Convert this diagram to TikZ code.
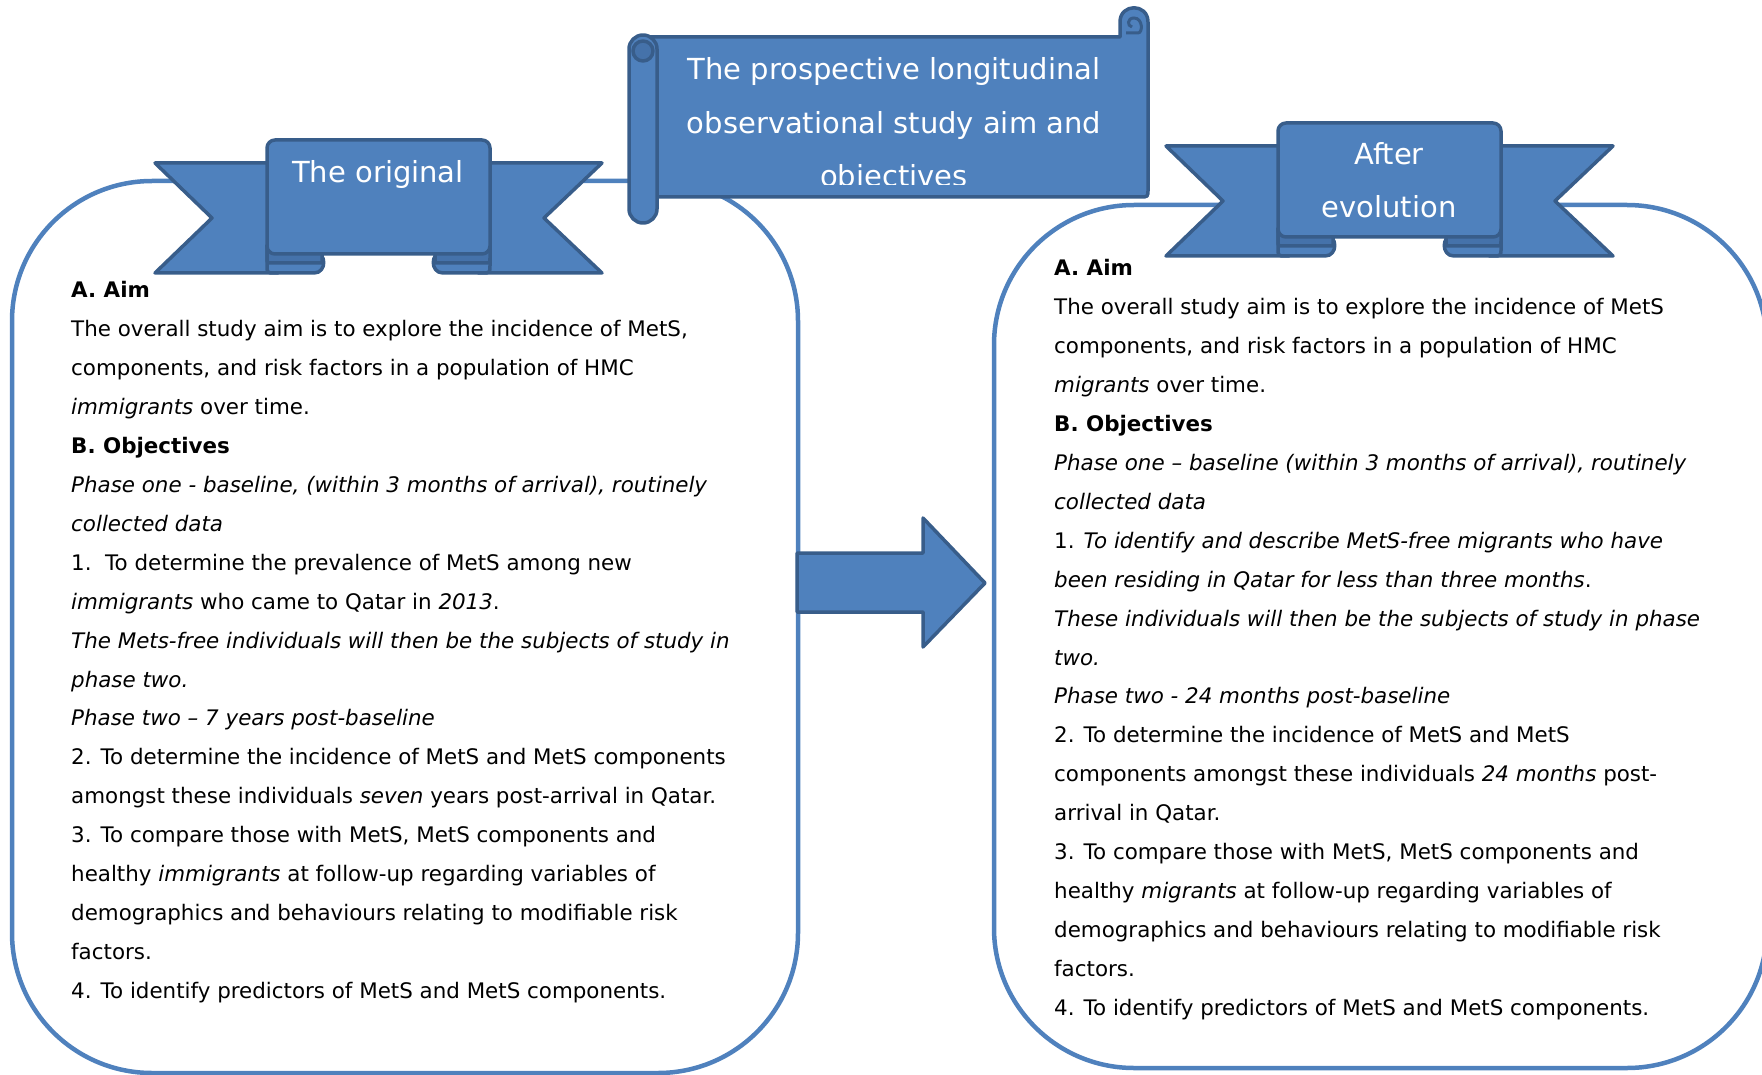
\documentclass[tikz,border=0pt]{standalone}
\usepackage{fontspec}
\setmainfont{DejaVu Sans}
\definecolor{boxline}{HTML}{4F81BD}
\definecolor{ribfill}{HTML}{4F81BD}
\definecolor{ribedge}{HTML}{385D8A}
\definecolor{ribshade}{HTML}{4572AA}
\tikzset{
  ribbonshape/.pic={
    % tails behind the centre panel
    \draw[rib] (-100,23) -- (-223,23) -- (-166,78) -- (-223,133) -- (-100,133) -- cycle;
    \draw[rib] (100,23) -- (224,23) -- (166,78) -- (224,133) -- (100,133) -- cycle;
    % folded curls under the panel
    \draw[rib] (-111,105) -- (-111,125) .. controls (-111,133) .. (-103,133) -- (-64,133)
      .. controls (-51,133) and (-51,112) .. (-64,112) -- (-111,112);
    \draw[rib, fill=ribshade] (-111,105) -- (-111,118) .. controls (-111,123) .. (-105,123)
      -- (-56,123) -- (-56,105) -- cycle;
    \draw[rib] (112,105) -- (112,125) .. controls (112,133) .. (104,133) -- (65,133)
      .. controls (52,133) and (52,112) .. (65,112) -- (112,112);
    \draw[rib, fill=ribshade] (112,105) -- (112,118) .. controls (112,123) .. (106,123)
      -- (57,123) -- (57,105) -- cycle;
    % centre panel
    \draw[rib, rounded corners=8pt] (-111,0) rectangle (112,114);
  }
}
\begin{document}
\begin{tikzpicture}[x=1pt,y=-1pt,
  frame/.style={draw=boxline, line width=4.5pt, rounded corners=140pt},
  rib/.style={fill=ribfill, draw=ribedge, line width=3.5pt, line join=round},
  body/.style={anchor=base west, inner sep=0pt, font=\fontsize{21.4}{26}\selectfont},
  head/.style={anchor=base, inner sep=0pt, text=white, font=\fontsize{29}{35}\selectfont},
]
\useasboundingbox (0,0) rectangle (1762,1075);

% the two rounded text panels
\draw[frame] (12,181) rectangle (798,1073);
\draw[frame] (994,205) rectangle (1767,1068);

% block arrow between the panels
\draw[rib] (797,553) -- (923,553) -- (923,518) -- (985,583) -- (923,647) -- (923,612) -- (797,612) -- cycle;

% ribbons
\pic at (378,140) {ribbonshape};
\pic at (1389,123) {ribbonshape};
\node[head] (orig) at (378,183) {The original};
\node[head] (after1) at (1389,165) {After};
\node[head] (after2) at (1389,218) {evolution};

% scroll banner
\draw[rib] (643,37) -- (1120,37) -- (1120,22) .. controls (1120,3) and (1148,3) .. (1148,22)
  -- (1148,189) .. controls (1148,197) .. (1140,197) -- (643,197) -- cycle;
\draw[ribedge, line width=3pt] (1126,33) -- (1138,33) .. controls (1143,33) and (1143,18) .. (1134,18)
  .. controls (1127,18) and (1127,26) .. (1132,27);
\draw[rib, rounded corners=14pt] (629,35) rectangle (657,223);
\draw[rib, fill=ribshade] (643,51) circle[radius=10];
\begin{scope}
  \clip (660,40) rectangle (1144,185);
  \node[head] (t1) at (894,80) {The prospective longitudinal};
  \node[head] (t2) at (894,133.4) {observational study aim and};
  \node[head] (t3) at (894,186.8) {objectives};
\end{scope}

% left panel text
\node[body] (L0) at (71,298) {\textbf{A. Aim}};
\node[body] (L1) at (71,336.9) {The overall study aim is to explore the incidence of MetS,};
\node[body] (L2) at (71,375.8) {components, and risk factors in a population of HMC};
\node[body] (L3) at (71,414.7) {\textit{immigrants} over time.};
\node[body] (L4) at (71,453.6) {\textbf{B. Objectives}};
\node[body] (L5) at (71,492.5) {\textit{Phase one - baseline, (within 3 months of arrival), routinely}};
\node[body] (L6) at (71,531.4) {\textit{collected data}};
\node[body] (L7) at (71,570.3) {1.\ \ To determine the prevalence of MetS among new};
\node[body] (L8) at (71,609.2) {\textit{immigrants} who came to Qatar in \textit{2013}.};
\node[body] (L9) at (71,648.1) {\textit{The Mets-free individuals will then be the subjects of study in}};
\node[body] (L10) at (71,687) {\textit{phase two.}};
\node[body] (L11) at (71,725.9) {\textit{Phase two – 7 years post-baseline}};
\node[body] (L12) at (71,764.8) {2. To determine the incidence of MetS and MetS components};
\node[body] (L13) at (71,803.7) {amongst these individuals \textit{seven} years post-arrival in Qatar.};
\node[body] (L14) at (71,842.6) {3. To compare those with MetS, MetS components and};
\node[body] (L15) at (71,881.5) {healthy \textit{immigrants} at follow-up regarding variables of};
\node[body] (L16) at (71,920.4) {demographics and behaviours relating to modifiable risk};
\node[body] (L17) at (71,959.3) {factors.};
\node[body] (L18) at (71,998.2) {4. To identify predictors of MetS and MetS components.};

% right panel text
\node[body] (R0) at (1054,276) {\textbf{A. Aim}};
\node[body] (R1) at (1054,314.9) {The overall study aim is to explore the incidence of MetS};
\node[body] (R2) at (1054,353.8) {components, and risk factors in a population of HMC};
\node[body] (R3) at (1054,392.7) {\textit{migrants} over time.};
\node[body] (R4) at (1054,431.6) {\textbf{B. Objectives}};
\node[body] (R5) at (1054,470.5) {\textit{Phase one – baseline (within 3 months of arrival), routinely}};
\node[body] (R6) at (1054,509.4) {\textit{collected data}};
\node[body] (R7) at (1054,548.3) {1. \textit{To identify and describe MetS-free migrants who have}};
\node[body] (R8) at (1054,587.2) {\textit{been residing in Qatar for less than three months}.};
\node[body] (R9) at (1054,626.1) {\textit{These individuals will then be the subjects of study in phase}};
\node[body] (R10) at (1054,665) {\textit{two.}};
\node[body] (R11) at (1054,703.9) {\textit{Phase two - 24 months post-baseline}};
\node[body] (R12) at (1054,742.8) {2. To determine the incidence of MetS and MetS};
\node[body] (R13) at (1054,781.7) {components amongst these individuals \textit{24 months} post-};
\node[body] (R14) at (1054,820.6) {arrival in Qatar.};
\node[body] (R15) at (1054,859.5) {3. To compare those with MetS, MetS components and};
\node[body] (R16) at (1054,898.4) {healthy \textit{migrants} at follow-up regarding variables of};
\node[body] (R17) at (1054,937.3) {demographics and behaviours relating to modifiable risk};
\node[body] (R18) at (1054,976.2) {factors.};
\node[body] (R19) at (1054,1015.1) {4. To identify predictors of MetS and MetS components.};
\end{tikzpicture}
\end{document}
